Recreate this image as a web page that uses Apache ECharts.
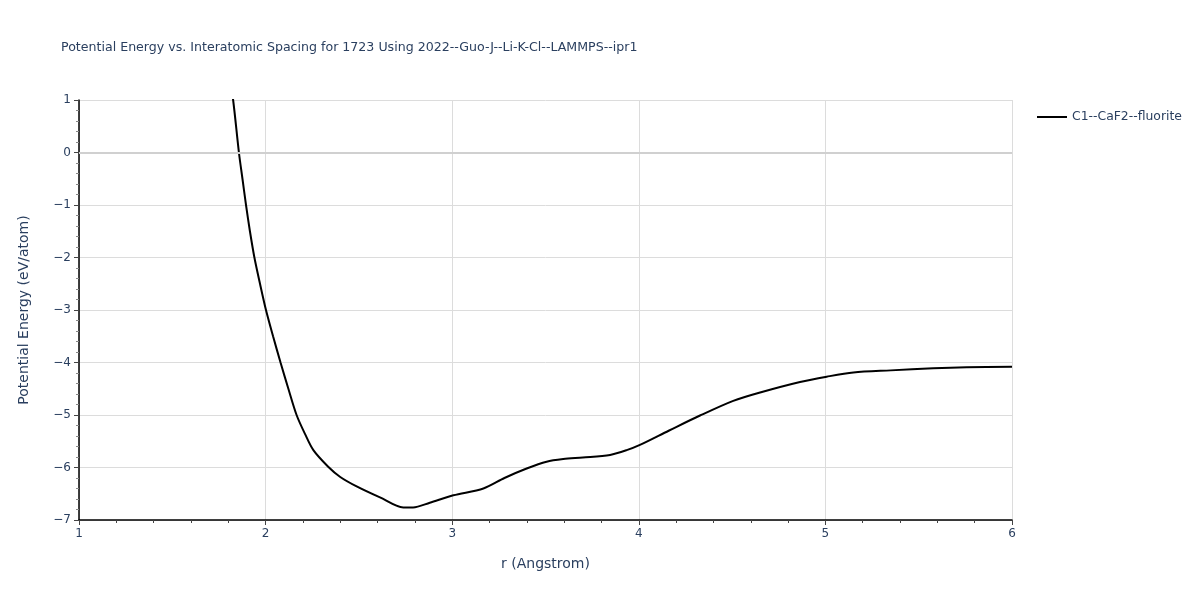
<!DOCTYPE html>
<html>
<head>
<meta charset="utf-8">
<script src="https://cdn.jsdelivr.net/npm/echarts@6/dist/echarts.min.js"></script>
<style>html,body{margin:0;padding:0;background:#fff}#c{width:1200px;height:600px}</style>
</head>
<body>
<div id="c"></div>
<script>
const seriesName = 'C1--CaF2--fluorite';
const rValues = [1.80, 1.826, 1.857, 1.876, 1.895, 1.916, 1.94, 1.97, 2.002, 2.04, 2.08, 2.122, 2.166, 2.211, 2.256, 2.334, 2.40, 2.488, 2.613, 2.738, 2.79, 2.88, 3.006, 3.167, 3.28, 3.399, 3.506, 3.595, 3.70, 3.846, 3.935, 4.006, 4.16, 4.328, 4.506, 4.65, 4.864, 5.007, 5.15, 5.35, 5.578, 5.757, 6.0];
const energyValues = [1.6, 1.0, 0.0, -0.5, -1.0, -1.5, -2.0, -2.5, -3.0, -3.5, -4.0, -4.5, -5.0, -5.36, -5.67, -5.98, -6.18, -6.36, -6.57, -6.76, -6.76, -6.67, -6.53, -6.40, -6.20, -6.02, -5.89, -5.84, -5.81, -5.76, -5.67, -5.57, -5.30, -5.01, -4.73, -4.57, -4.37, -4.27, -4.19, -4.15, -4.11, -4.09, -4.08];
const xTicks = {min: 1, max: 6, interval: 1};
const yTicks = {min: -7, max: 1, interval: 1};

const data = rValues.map((r, i) => [r, energyValues[i]]);
const txt = '#2a3f5f';
const font = '"DejaVu Sans", Verdana, sans-serif';
const chart = echarts.init(document.getElementById('c'), null, {renderer: 'canvas'});
chart.setOption({
  animation: false,
  textStyle: {fontFamily: font},
  title: {
    text: 'Potential Energy vs. Interatomic Spacing for 1723 Using 2022--Guo-J--Li-K-Cl--LAMMPS--ipr1',
    left: 56, top: 36,
    textStyle: {fontSize: 12.6, fontWeight: 'normal', color: txt, fontFamily: font}
  },
  legend: {
    left: 1032, top: 106, orient: 'vertical',
    itemWidth: 30, itemHeight: 14, itemGap: 10,
    icon: 'path://M0,6 L30,6 L30,8 L0,8 Z',
    textStyle: {fontSize: 12.4, color: txt, fontFamily: font},
    data: [{name: seriesName, itemStyle: {color: '#000'}}]
  },
  grid: {left: 79, right: 188, top: 100, bottom: 80, containLabel: false},
  xAxis: {
    type: 'value', min: xTicks.min, max: xTicks.max, interval: xTicks.interval,
    name: 'r (Angstrom)', nameLocation: 'middle', nameGap: 37,
    nameTextStyle: {fontSize: 14, color: txt, fontFamily: font},
    axisLine: {show: true, onZero: false, lineStyle: {color: '#000', width: 1.5}},
    axisTick: {show: true, length: 5, lineStyle: {color: '#444'}},
    minorTick: {show: true, splitNumber: 5, length: 3, lineStyle: {color: '#444'}},
    axisLabel: {fontSize: 12, color: txt, margin: 8, fontFamily: font},
    splitLine: {show: true, lineStyle: {color: '#dcdcdc', width: 1}}
  },
  yAxis: {
    type: 'value', min: yTicks.min, max: yTicks.max, interval: yTicks.interval,
    name: 'Potential Energy (eV/atom)', nameLocation: 'middle', nameGap: 48,
    nameTextStyle: {fontSize: 14, color: txt, fontFamily: font},
    axisLine: {show: true, onZero: false, lineStyle: {color: '#000', width: 1.5}},
    axisTick: {show: true, length: 5, lineStyle: {color: '#444'}},
    minorTick: {show: true, splitNumber: 5, length: 3, lineStyle: {color: '#888'}},
    axisLabel: {fontSize: 12, color: txt, margin: 8, fontFamily: font,
      formatter: v => (v < 0 ? '\u2212' + Math.abs(v) : String(v))},
    splitLine: {show: true, lineStyle: {color: '#dcdcdc', width: 1}}
  },
  series: [{
    name: seriesName, type: 'line', data: data, showSymbol: false, smooth: 0.3,
    clip: true,
    lineStyle: {color: '#000', width: 2}, itemStyle: {color: '#000'},
    markLine: {
      silent: true, symbol: 'none', label: {show: false},
      lineStyle: {color: '#d0d0d0', width: 2, type: 'solid'},
      data: [{yAxis: 0}]
    },
    z: 3
  }]
});
</script>
</body>
</html>
